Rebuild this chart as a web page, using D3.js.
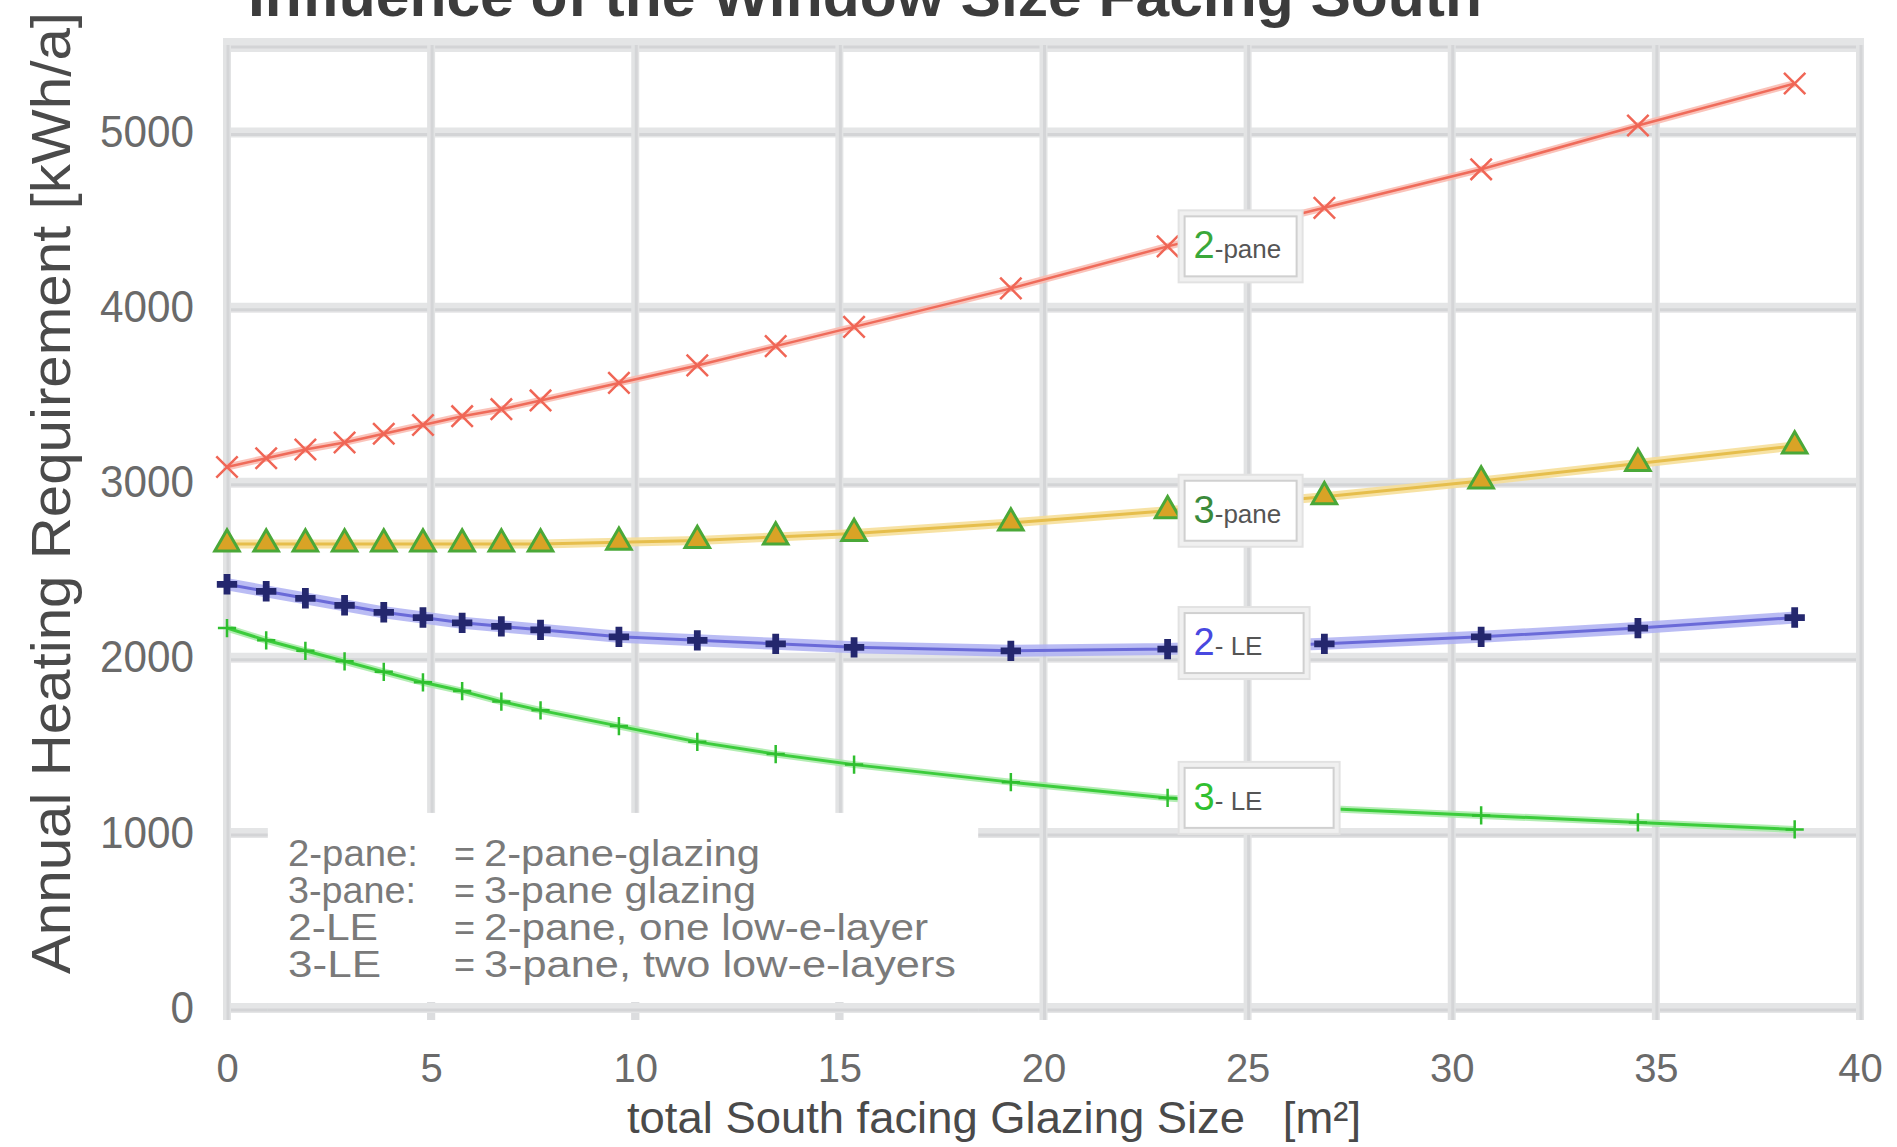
<!DOCTYPE html>
<html>
<head>
<meta charset="utf-8">
<script src="https://cdn.jsdelivr.net/npm/d3@7"></script>
<style>
  body { margin: 0; background: #fff; }
  svg { display: block; font-family: "Liberation Sans", Arial, sans-serif; }
</style>
</head>
<body>
<svg id="chart" width="1897" height="1147"></svg>
<script>
// glazing area (m²) of every computed point
const glazingSize = [0, 0.96, 1.92, 2.88, 3.84, 4.8, 5.76, 6.72, 7.68, 9.6, 11.52, 13.44, 15.36, 19.2, 23.04, 26.88, 30.72, 34.56, 38.4];

// annual heating requirement (kWh/a)
const pane2 = [3090, 3140, 3190, 3230, 3280, 3330, 3380, 3420, 3470, 3570, 3670, 3780, 3890, 4110, 4350, 4570, 4790, 5040, 5280];
const pane3 = [2650, 2650, 2650, 2650, 2650, 2650, 2650, 2650, 2650, 2660, 2670, 2690, 2710, 2770, 2840, 2920, 3010, 3110, 3210];
const le2 = [2420, 2380, 2340, 2300, 2260, 2230, 2200, 2180, 2160, 2120, 2100, 2080, 2060, 2040, 2050, 2080, 2120, 2170, 2230];
const le3 = [2170, 2100, 2040, 1980, 1920, 1860, 1810, 1750, 1700, 1610, 1520, 1450, 1390, 1290, 1200, 1140, 1100, 1060, 1020];

const xTicks = [0, 5, 10, 15, 20, 25, 30, 35, 40];
const yTicks = [0, 1000, 2000, 3000, 4000, 5000];

const seriesNames = ['2-pane', '3-pane', '2-LE', '3-LE'];
const boxDigits = ['2', '3', '2', '3'];
const boxRest = ['-pane', '-pane', '- LE', '- LE'];

const legendKeys = ['2-pane:', '3-pane:', '2-LE', '3-LE'];
const legendTexts = ['2-pane-glazing', '3-pane glazing', '2-pane, one low-e-layer', '3-pane, two low-e-layers'];

const titleText = 'Influence of the Window Size Facing South';
const yTitle = 'Annual Heating Requirement [kWh/a]';
const xTitle = 'total South facing Glazing Size\u00a0\u00a0\u00a0[m²]';

const svg = d3.select('#chart');
const W = 1897, H = 1147;
const margin = { top: 45, right: 37, bottom: 139, left: 227 };

const xScale = d3.scaleLinear().domain([0, 40]).range([margin.left, W - margin.right]);
const yScale = d3.scaleLinear().domain([0, 5500]).range([H - margin.bottom, margin.top]);

// series styles
const styles = [
  { halo: '#f9b8ae', core: '#ef6b5a', hw: 7, cw: 2.5, digit: '#3aa83a' },
  { halo: '#f6dd94', core: '#e6be4c', hw: 9, cw: 3, digit: '#3a8a3a' },
  { halo: '#aeb0f2', core: '#6a6ad8', hw: 12, cw: 3, digit: '#4848e0' },
  { halo: '#a6eaa6', core: '#3ccc3c', hw: 7, cw: 3, digit: '#30c030' }
];
const seriesValues = [pane2, pane3, le2, le3];

// grid
const grid = svg.append('g').attr('id', 'grid');
const hLines = yTicks.concat([5500]);
grid.selectAll('.hb').data(hLines).join('line')
  .attr('x1', xScale(0) - 4).attr('x2', xScale(40) + 4)
  .attr('y1', d => yScale(d)).attr('y2', d => yScale(d))
  .attr('stroke', '#e4e5e6').attr('stroke-width', d => d === 5500 ? 14 : 10);
grid.selectAll('.hc').data(hLines).join('line')
  .attr('x1', xScale(0) - 4).attr('x2', xScale(40) + 4)
  .attr('y1', d => yScale(d) + 2).attr('y2', d => yScale(d) + 2)
  .attr('stroke', '#d3d4d6').attr('stroke-width', 3);
grid.selectAll('.vb').data(xTicks).join('line')
  .attr('x1', d => xScale(d)).attr('x2', d => xScale(d))
  .attr('y1', yScale(5500)).attr('y2', yScale(0) + 12)
  .attr('stroke', '#e2e3e4').attr('stroke-width', 8);
grid.selectAll('.vc').data(xTicks).join('line')
  .attr('x1', d => xScale(d) + 1).attr('x2', d => xScale(d) + 1)
  .attr('y1', yScale(5500)).attr('y2', yScale(0) + 12)
  .attr('stroke', '#d4d5d7').attr('stroke-width', 3);

// legend block masks the grid
const maskX0 = xScale(1), maskX1 = xScale(18.4);
svg.append('rect')
  .attr('x', maskX0).attr('y', yScale(1000) - 20)
  .attr('width', maskX1 - maskX0).attr('height', yScale(0) - yScale(1000) + 14)
  .attr('fill', '#fff');
grid.selectAll('.vb2').data(xTicks.filter(d => d > 0 && d < 20)).join('line')
  .attr('x1', d => xScale(d)).attr('x2', d => xScale(d))
  .attr('y1', yScale(0) - 6).attr('y2', yScale(0) + 12)
  .attr('stroke', '#dcdddf').attr('stroke-width', 8);
svg.append('line')
  .attr('x1', maskX0).attr('x2', maskX1)
  .attr('y1', yScale(0)).attr('y2', yScale(0))
  .attr('stroke', '#e4e5e6').attr('stroke-width', 10);
svg.append('line')
  .attr('x1', maskX0).attr('x2', maskX1)
  .attr('y1', yScale(0) + 2).attr('y2', yScale(0) + 2)
  .attr('stroke', '#d3d4d6').attr('stroke-width', 3);

// axes labels
const xAxis = svg.append('g').attr('id', 'x-axis')
  .attr('transform', `translate(0, ${yScale(0) + 46})`)
  .call(d3.axisBottom(xScale).tickValues(xTicks).tickSize(0).tickPadding(0));
xAxis.attr('font-family', null).attr('font-size', null);
xAxis.select('.domain').remove();
xAxis.selectAll('text').attr('font-size', 40).attr('fill', '#6a6a6a');

const yAxis = svg.append('g').attr('id', 'y-axis')
  .attr('transform', `translate(${margin.left - 33}, 0)`)
  .call(d3.axisLeft(yScale).tickValues(yTicks).tickFormat(d3.format('d')).tickSize(0).tickPadding(0));
yAxis.attr('font-family', null).attr('font-size', null);
yAxis.select('.domain').remove();
yAxis.selectAll('text').attr('font-size', 44).attr('fill', '#6a6a6a')
  .attr('textLength', d => String(d).length * 23.5).attr('lengthAdjust', 'spacingAndGlyphs');

// lines
const lineGen = d3.line()
  .x((d, i) => xScale(glazingSize[i]))
  .y(d => yScale(d));

const lines = svg.append('g').attr('id', 'lines');
seriesValues.forEach((vals, s) => {
  lines.append('path').datum(vals)
    .attr('d', lineGen).attr('fill', 'none')
    .attr('stroke', styles[s].halo).attr('stroke-width', styles[s].hw)
    .attr('stroke-linejoin', 'round').attr('opacity', 0.85);
  lines.append('path').datum(vals)
    .attr('d', lineGen).attr('fill', 'none')
    .attr('stroke', styles[s].core).attr('stroke-width', styles[s].cw)
    .attr('stroke-linejoin', 'round');
});

// markers
const marks = svg.append('g').attr('id', 'markers');
const pt = (vals) => vals.map((v, i) => ({ x: glazingSize[i], y: v }));

marks.append('g').selectAll('path').data(pt(pane2)).join('path')
  .attr('transform', d => `translate(${xScale(d.x)},${yScale(d.y)}) rotate(45)`)
  .attr('d', d3.symbol(d3.symbolPlus, 300))
  .attr('fill', 'none').attr('stroke', '#f06656').attr('stroke-width', 2.5);

marks.append('g').selectAll('path').data(pt(pane3)).join('path')
  .attr('transform', d => `translate(${xScale(d.x)},${yScale(d.y)})`)
  .attr('d', d3.symbol(d3.symbolTriangle, 260))
  .attr('fill', '#d9a326').attr('stroke', '#4aa838').attr('stroke-width', 3);

marks.append('g').selectAll('path').data(pt(le2)).join('path')
  .attr('transform', d => `translate(${xScale(d.x)},${yScale(d.y)})`)
  .attr('d', d3.symbol(d3.symbolCross, 230))
  .attr('fill', '#24276e');

marks.append('g').selectAll('path').data(pt(le3)).join('path')
  .attr('transform', d => `translate(${xScale(d.x)},${yScale(d.y)})`)
  .attr('d', d3.symbol(d3.symbolPlus, 110))
  .attr('fill', 'none').attr('stroke', '#2fbf2f').attr('stroke-width', 2.5);

// series labels sitting on the lines at x = 23.04
const labelIdx = glazingSize.indexOf(23.04);
const boxW = [118, 118, 125, 155];
const boxH = 66;
const labels = svg.append('g').attr('id', 'series-labels');
seriesValues.forEach((vals, s) => {
  const cx = xScale(glazingSize[labelIdx]) + 14;
  const cy = yScale(vals[labelIdx]) + (s === 2 ? -6 : 0);
  const g = labels.append('g').attr('transform', `translate(${cx},${cy - boxH / 2})`);
  g.append('rect').attr('x', -3).attr('y', -3).attr('width', boxW[s] + 6).attr('height', boxH + 6)
    .attr('fill', '#f0f0f0').attr('stroke', '#e2e2e2').attr('stroke-width', 2);
  g.append('rect').attr('x', 3).attr('y', 3).attr('width', boxW[s] - 6).attr('height', boxH - 6)
    .attr('fill', '#fff').attr('stroke', '#d0d0d0').attr('stroke-width', 2);
  const t = g.append('text').attr('x', 12).attr('y', boxH / 2 + 12);
  t.append('tspan').text(boxDigits[s]).attr('font-size', 38).attr('fill', styles[s].digit);
  t.append('tspan').text(boxRest[s]).attr('font-size', 26).attr('fill', '#555');
});

// legend text
const keyWidths = [130, 128, 90, 93];
const legendWidths = [276, 272, 444, 472];
const legendY = (i) => 866 + i * 37;
const legend = svg.append('g').attr('id', 'legend').attr('font-size', 36).attr('fill', '#7a7a7a');
legend.selectAll('.k').data(legendKeys).join('text')
  .attr('x', 288).attr('y', (d, i) => legendY(i))
  .attr('textLength', (d, i) => keyWidths[i]).attr('lengthAdjust', 'spacingAndGlyphs')
  .text(d => d);
legend.selectAll('.e').data(legendKeys).join('text')
  .attr('x', 454).attr('y', (d, i) => legendY(i)).text('=');
legend.selectAll('.v').data(legendTexts).join('text')
  .attr('x', 484).attr('y', (d, i) => legendY(i))
  .attr('textLength', (d, i) => legendWidths[i]).attr('lengthAdjust', 'spacingAndGlyphs')
  .text(d => d);

// titles
svg.append('text')
  .attr('x', 865).attr('y', 16)
  .attr('text-anchor', 'middle')
  .attr('font-size', 58).attr('font-weight', 'bold').attr('fill', '#3c3c3c')
  .attr('textLength', 1234).attr('lengthAdjust', 'spacingAndGlyphs')
  .text(titleText);

svg.append('text')
  .attr('transform', `translate(70, 493) rotate(-90)`)
  .attr('text-anchor', 'middle')
  .attr('font-size', 56).attr('fill', '#4a4a4a')
  .attr('textLength', 962).attr('lengthAdjust', 'spacingAndGlyphs')
  .text(yTitle);

svg.append('text')
  .attr('x', 994).attr('y', 1133)
  .attr('text-anchor', 'middle')
  .attr('font-size', 45).attr('fill', '#4a4a4a')
  .attr('textLength', 734).attr('lengthAdjust', 'spacingAndGlyphs')
  .text(xTitle);
</script>
</body>
</html>
